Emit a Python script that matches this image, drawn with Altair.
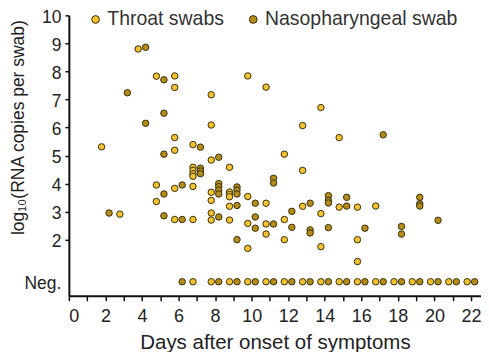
import altair as alt
import pandas as pd

# Values (None = "Neg.")
throat_days = [2, 3, 4, 5, 5, 5, 6, 6, 6, 6, 6, 6,
               7, 7, 7, 7, 7, 7, 7, 7,
               8, 8, 8, 8, 8, 8, 8, 8,
               9, 9, 9, 9, 9, 9, 9,
               10, 10, 10, 10, 10,
               11, 11, 11, 11, 11,
               12, 12, 12, 12,
               13, 13, 13, 13,
               14, 14, 14, 14,
               15, 15, 15,
               16, 16, 16, 16,
               17, 17, 18, 19, 20, 21, 22]
throat_vals = [5.31, 2.91, 8.80, 7.83, 3.95, 3.36, 7.84, 7.43, 5.64, 5.19, 3.83, 2.72,
               5.39, 4.58, 4.47, 4.35, 4.26, 3.90, 2.72, None,
               7.17, 6.09, 4.84, 3.69, 3.40, 2.95, 2.70, None,
               4.58, 3.70, 3.61, 3.53, 3.19, 2.70, None,
               7.84, 3.54, 2.58, 1.69, None,
               7.44, 3.30, 2.56, 2.20, None,
               5.05, 2.72, 2.00, None,
               6.07, 4.47, 3.19, None,
               6.71, 2.93, 1.75, None,
               5.64, 3.16, None,
               3.16, 2.00, 1.22, None,
               3.20, None, None, None, None, None, None]

np_days = [2, 3, 4, 4, 5, 5, 5, 5, 5,
           6, 6, 6,
           7, 7, 7, 7,
           8, 8, 8, 8, 8, 8, 8,
           9, 9, 9, 9, 9, 9,
           10, 10, 10, 10,
           11, 11, 11, 11,
           12, 12, 12,
           13, 13, 13, 13,
           14, 14, 14, 14, 14,
           15, 15, 15,
           16, 16,
           17, 17,
           18, 18, 18,
           19, 19, 19, 19,
           20, 20, 21, 22]
np_vals = [2.95, 7.24, 8.86, 6.15, 7.70, 6.51, 5.05, 3.63, 2.85,
           3.95, 2.72, None,
           5.30, 4.55, 4.45, 4.35,
           4.94, 4.00, 3.89, 3.77, 3.63, 2.81, None,
           3.88, 3.77, 3.63, 3.22, 2.00, None,
           3.30, 2.81, 2.41, None,
           4.19, 4.02, 2.56, None,
           3.01, 2.44, None,
           3.30, 2.35, 2.24, None,
           3.57, 3.40, 3.31, 2.43, None,
           3.51, 3.20, None,
           2.41, None,
           5.74, None,
           2.47, 2.20, None,
           3.51, 3.28, 3.20, None,
           2.69, None, None, None]

series = ["Throat swabs", "Nasopharyngeal swab"]
colors = ["#f2c230", "#b38c1a"]
NEG = 0.5
x_ticks = list(range(0, 23))
y_ticks = [NEG, 2, 3, 4, 5, 6, 7, 8, 9, 10]

rows = []
for d, v in zip(throat_days, throat_vals):
    rows.append({"day": d - 0.21, "val": NEG if v is None else v, "type": series[0]})
for d, v in zip(np_days, np_vals):
    rows.append({"day": d + 0.2, "val": NEG if v is None else v, "type": series[1]})
df = pd.DataFrame(rows)

FONT = "Liberation Sans"
PLOT_H = 281

chart = alt.Chart(df).mark_circle(
    size=42, stroke="#3a300c", strokeWidth=1, opacity=1
).encode(
    x=alt.X("day:Q", scale=alt.Scale(domain=[0, 22.55], nice=False, zero=False),
            axis=alt.Axis(values=x_ticks, title="Days after onset of symptoms",
                          labelExpr="datum.value % 2 == 0 ? datum.value : ''",
                          labelOverlap=False, grid=False, tickSize=5,
                          labelPadding=7, titlePadding=7,
                          labelFontSize=18, titleFontSize=20.5,
                          labelFont=FONT, titleFont=FONT, titleFontWeight="normal",
                          domainColor="#111", tickColor="#111", domainWidth=2,
                          tickWidth=1.5, labelColor="#222", titleColor="#222")),
    y=alt.Y("val:Q", scale=alt.Scale(domain=[0, 10], nice=False),
            axis=alt.Axis(values=y_ticks, title="log₁₀(RNA copies per swab)",
                          labelExpr="datum.value == 0.5 ? 'Neg.' : datum.value",
                          labelOverlap=False, grid=False, tickSize=4,
                          tickOpacity={"condition": {"test": "datum.value == 0.5", "value": 0}, "value": 1},
                          labelPadding=4, labelOffset=2,
                          titleX=-50, titleY=112, titleAngle=270,
                          titleAlign="center", titleBaseline="middle",
                          labelFontSize=17.5, titleFontSize=17.5,
                          labelFont=FONT, titleFont=FONT, titleFontWeight="normal",
                          domainColor="#111", tickColor="#111", domainWidth=2,
                          tickWidth=1.5, labelColor="#222", titleColor="#222")),
    color=alt.Color("type:N", scale=alt.Scale(domain=series, range=colors),
                    legend=alt.Legend(title=None, orient="none", direction="horizontal",
                                      legendX=17, legendY=-6, labelFontSize=19.5,
                                      labelFont=FONT, labelColor="#333", labelLimit=400,
                                      symbolType="circle", symbolSize=60,
                                      symbolStrokeColor="#3a300c", symbolStrokeWidth=1,
                                      labelOffset=2, columnPadding=19, padding=0)),
    order=alt.Order("type:N", sort="descending"),
).properties(
    width=413, height=PLOT_H,
    autosize=alt.AutoSizeParams(type="none"),
    padding={"left": 61, "top": 7, "right": 0, "bottom": 56},
).configure_view(stroke=None)

chart.save("out.html", embed_options={"renderer": "svg", "actions": False})
